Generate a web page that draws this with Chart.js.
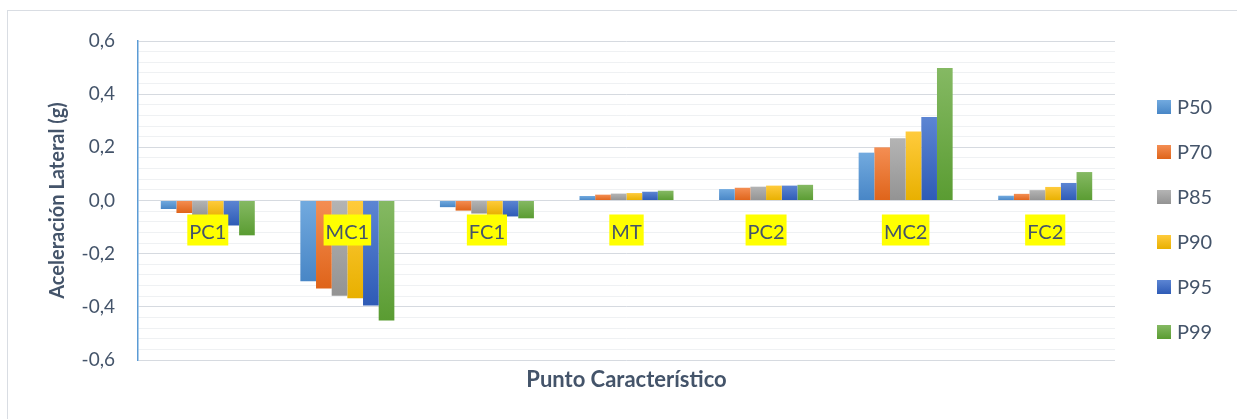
<!DOCTYPE html>
<html>
<head>
<meta charset="utf-8">
<script src="https://cdn.jsdelivr.net/npm/chart.js@4/dist/chart.umd.min.js"></script>
<style>
  html, body { margin: 0; padding: 0; background: #ffffff; }
  #c { display: block; }
</style>
</head>
<body>
<canvas id="c" width="1237" height="419"></canvas>
<script>
// Characteristic points along the curve
const puntos = ['PC1', 'MC1', 'FC1', 'MT', 'PC2', 'MC2', 'FC2'];

// Lateral acceleration (g) per percentile
const p50 = [-0.032, -0.304, -0.025, 0.017, 0.043, 0.180, 0.018];
const p70 = [-0.047, -0.331, -0.038, 0.022, 0.048, 0.200, 0.025];
const p85 = [-0.058, -0.358, -0.049, 0.026, 0.052, 0.234, 0.039];
const p90 = [-0.066, -0.368, -0.054, 0.028, 0.056, 0.260, 0.051];
const p95 = [-0.094, -0.395, -0.060, 0.033, 0.056, 0.314, 0.066];
const p99 = [-0.131, -0.451, -0.067, 0.037, 0.059, 0.498, 0.107];

const seriesNames = ['P50', 'P70', 'P85', 'P90', 'P95', 'P99'];
const seriesValues = [p50, p70, p85, p90, p95, p99];

// Value axis labels
const yTickValues = [-0.6, -0.4, -0.2, 0.0, 0.2, 0.4, 0.6];
const yTickLabels = ['-0,6', '-0,4', '-0,2', '0,0', '0,2', '0,4', '0,6'];

// Fill shades per series: [light top, dark bottom]
const shades = [
  ['#72aadf', '#4886c6'],
  ['#f48e53', '#df641a'],
  ['#b4b4b4', '#939393'],
  ['#ffcb3c', '#e8b000'],
  ['#5c85d3', '#2e5bb6'],
  ['#85b963', '#5a9c32']
];

const FONT = 'Lato, "Liberation Sans", sans-serif';
const TEXT = '#44546a';
const MAJOR_GRID = '#d6dae0';
const MINOR_GRID = '#eff1f3';

function barFill(idx) {
  return (ctx) => {
    const chart = ctx.chart;
    if (ctx.type !== 'data' || !chart.chartArea || !chart.scales.y) return shades[idx][0];
    const y = chart.scales.y;
    const a = y.getPixelForValue(ctx.raw);
    const b = y.getPixelForValue(0);
    const top = Math.min(a, b), bottom = Math.max(a, b);
    if (bottom - top < 0.5) return shades[idx][0];
    const g = chart.ctx.createLinearGradient(0, top, 0, bottom);
    g.addColorStop(0, shades[idx][0]);
    g.addColorStop(1, shades[idx][1]);
    return g;
  };
}

function isMajor(v) {
  return yTickValues.some(t => Math.abs(t - v) < 1e-6);
}

// White background and thin frame around the whole chart
const framePlugin = {
  id: 'frame',
  beforeDraw(chart) {
    const ctx = chart.ctx;
    ctx.save();
    ctx.fillStyle = '#ffffff';
    ctx.fillRect(0, 0, chart.width, chart.height);
    ctx.strokeStyle = '#d9dde3';
    ctx.lineWidth = 1;
    ctx.strokeRect(7.5, 10.5, chart.width + 10, chart.height + 10);
    ctx.restore();
  }
};

// Series key on the right-hand side
const sideLegend = {
  id: 'sideLegend',
  afterDraw(chart) {
    const ctx = chart.ctx;
    ctx.save();
    chart.data.datasets.forEach((ds, i) => {
      const cy = 107 + i * 45;
      const g = ctx.createLinearGradient(0, cy - 7, 0, cy + 7);
      g.addColorStop(0, shades[i][0]);
      g.addColorStop(1, shades[i][1]);
      ctx.fillStyle = g;
      ctx.fillRect(1157, cy - 7, 14, 14);
      ctx.fillStyle = TEXT;
      ctx.font = '20px ' + FONT;
      ctx.textBaseline = 'middle';
      ctx.textAlign = 'left';
      ctx.fillText(ds.label, 1177, cy + 1);
    });
    ctx.restore();
  }
};

const datasets = seriesNames.map((name, i) => ({
  label: name,
  data: seriesValues[i],
  backgroundColor: barFill(i),
  borderWidth: 0,
  categoryPercentage: 0.6735,
  barPercentage: 1.0
}));

new Chart(document.getElementById('c'), {
  type: 'bar',
  data: { labels: puntos, datasets },
  plugins: [framePlugin, sideLegend],
  options: {
    responsive: false,
    animation: false,
    devicePixelRatio: 1,
    layout: { padding: { left: 8, right: 122, top: 41, bottom: 0 } },
    plugins: {
      legend: { display: false },
      tooltip: { enabled: false }
    },
    scales: {
      x: {
        type: 'category',
        position: { y: 0 },
        grid: { display: false, drawTicks: false },
        border: { display: false },
        ticks: {
          z: 1,
          padding: 20,
          autoSkip: false,
          maxRotation: 0,
          color: TEXT,
          font: { family: FONT, size: 20 },
          showLabelBackdrop: true,
          backdropColor: '#ffff00',
          backdropPadding: { top: 6, bottom: 1, left: 2, right: 2 }
        }
      },
      x2: {
        type: 'category',
        position: 'bottom',
        grid: { display: false, drawTicks: false },
        border: { display: false },
        ticks: { display: false },
        title: {
          display: true,
          text: 'Punto Característico',
          color: TEXT,
          font: { family: FONT, size: 22, weight: 'bold' },
          padding: { top: 0, bottom: 26 }
        },
        afterFit(scale) { scale.height = 59; }
      },
      y: {
        min: -0.6,
        max: 0.6,
        ticks: {
          stepSize: 0.04,
          autoSkip: false,
          padding: 23,
          color: TEXT,
          font: { family: FONT, size: 19 },
          callback(v) {
            const i = yTickValues.findIndex(t => Math.abs(t - v) < 1e-6);
            return i >= 0 ? yTickLabels[i] : '';
          }
        },
        grid: {
          drawTicks: false,
          lineWidth: 1,
          color(c) {
            if (!c.tick) return MINOR_GRID;
            return isMajor(c.tick.value) ? MAJOR_GRID : MINOR_GRID;
          }
        },
        border: { display: true, color: '#5b9bd5', width: 1.5 },
        title: {
          display: true,
          text: 'Aceleración Lateral (g)',
          color: TEXT,
          font: { family: FONT, size: 20, weight: 'bold' },
          padding: { top: 38, bottom: 0 }
        },
        afterFit(scale) { scale.width = 130; }
      }
    }
  }
});
</script>
</body>
</html>
